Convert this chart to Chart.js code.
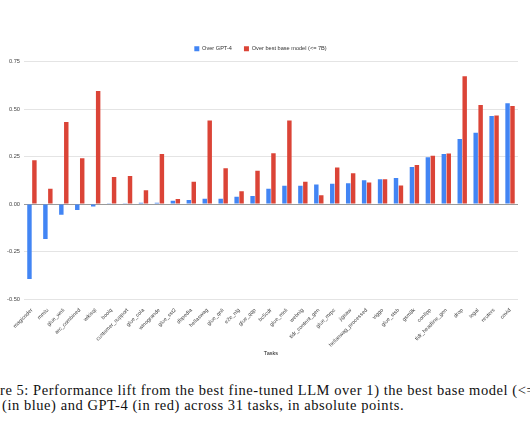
<!DOCTYPE html>
<html>
<head>
<meta charset="utf-8">
<script src="https://cdn.jsdelivr.net/npm/chart.js@4"></script>
<style>
  body { margin: 0; background: #fff; }
  #wrap { position: relative; width: 530px; height: 442px; overflow: hidden; }
  #chartBox { position: absolute; left: 0; top: 0; width: 530px; height: 364px; }
  .caption {
    position: absolute; white-space: nowrap;
    font-family: "Liberation Serif", serif; font-size: 14.5px; letter-spacing: 0.55px; color: #111;
  }
</style>
</head>
<body>
<div id="wrap">
  <div id="chartBox"><canvas id="myChart"></canvas></div>
  <div class="caption" style="left:0; top:382px;">re 5: Performance lift from the best fine-tuned LLM over 1) the best base model (&lt;= 7B)</div>
  <div class="caption" style="left:2px; top:397px;">(in blue) and GPT-4 (in red) across 31 tasks, in absolute points.</div>
</div>
<script>
// Chart data
var tasks = ["magicoder", "mmlu", "glue_wnli", "arc_combined", "wikisql", "boolq",
  "customer_support", "glue_cola", "winogrande", "glue_sst2", "dbpedia", "hellaswag",
  "glue_qnli", "e2e_nlg", "glue_qqp", "bc5cdr", "glue_mnli", "webnlg", "tldr_content_gen",
  "glue_mrpc", "jigsaw", "hellaswag_processed", "viggo", "glue_stsb", "gsm8k", "conllpp",
  "tldr_headline_gen", "drop", "legal", "reuters", "covid"];
var overGpt4 = [-0.394, -0.184, -0.056, -0.031, -0.013, 0.002, 0.004, 0.007, 0.007, 0.018,
  0.021, 0.028, 0.028, 0.039, 0.043, 0.080, 0.096, 0.096, 0.103, 0.107, 0.110, 0.125,
  0.130, 0.137, 0.195, 0.247, 0.263, 0.343, 0.375, 0.463, 0.531];
var overBase = [0.231, 0.080, 0.432, 0.241, 0.595, 0.143, 0.148, 0.073, 0.263, 0.027,
  0.118, 0.440, 0.188, 0.068, 0.175, 0.268, 0.440, 0.118, 0.046, 0.193, 0.162, 0.113,
  0.130, 0.098, 0.205, 0.254, 0.266, 0.673, 0.522, 0.466, 0.516];
var yTicks = [-0.5, -0.25, 0, 0.25, 0.5, 0.75];
var ctx;
var myChart;

window.addEventListener("load", onLoad);

function onLoad() {
  initializeChart();
}

function initializeChart() {
  ctx = document.getElementById("myChart").getContext("2d");
  myChart = new Chart(ctx, {
    type: "bar",
    data: {
      labels: tasks,
      datasets: [
        { label: "Over GPT-4", data: overGpt4, backgroundColor: "#4285F4" },
        { label: "Over best base model (<= 7B)", data: overBase, backgroundColor: "#DB4437" },
      ],
    },
    options: {
      responsive: true,
      maintainAspectRatio: false,
      animation: false,
      categoryPercentage: 0.62,
      barPercentage: 0.9,
      layout: { padding: { top: 34, left: 3, right: 12, bottom: 3 } },
      plugins: {
        tooltip: { enabled: false },
        legend: {
          position: "top",
          labels: {
            boxWidth: 5, boxHeight: 5, padding: 12,
            color: "#333",
            font: { family: "Liberation Sans", size: 5.6 },
          },
        },
      },
      scales: {
        x: {
          grid: { display: false },
          border: { display: false },
          ticks: {
            autoSkip: false, maxRotation: 45, minRotation: 45, padding: 0,
            color: "#444",
            font: { family: "Liberation Sans", size: 5.4 },
          },
          title: {
            display: true, text: "Tasks", color: "#222", padding: { top: 2 },
            font: { family: "Liberation Sans", size: 5.6 },
          },
        },
        y: {
          min: -0.5,
          max: 0.75,
          afterBuildTicks: (axis) => { axis.ticks = yTicks.map((v) => ({ value: v })); },
          border: { display: false },
          grid: {
            drawTicks: false,
            color: (c) => (c.tick && c.tick.value === 0 ? "#9a9a9a" : "#e4e4e4"),
          },
          ticks: {
            padding: 4, color: "#444",
            font: { family: "Liberation Sans", size: 5.7 },
            callback: (v) => Number(v).toFixed(2),
          },
        },
      },
    },
  });
}
</script>
</body>
</html>
